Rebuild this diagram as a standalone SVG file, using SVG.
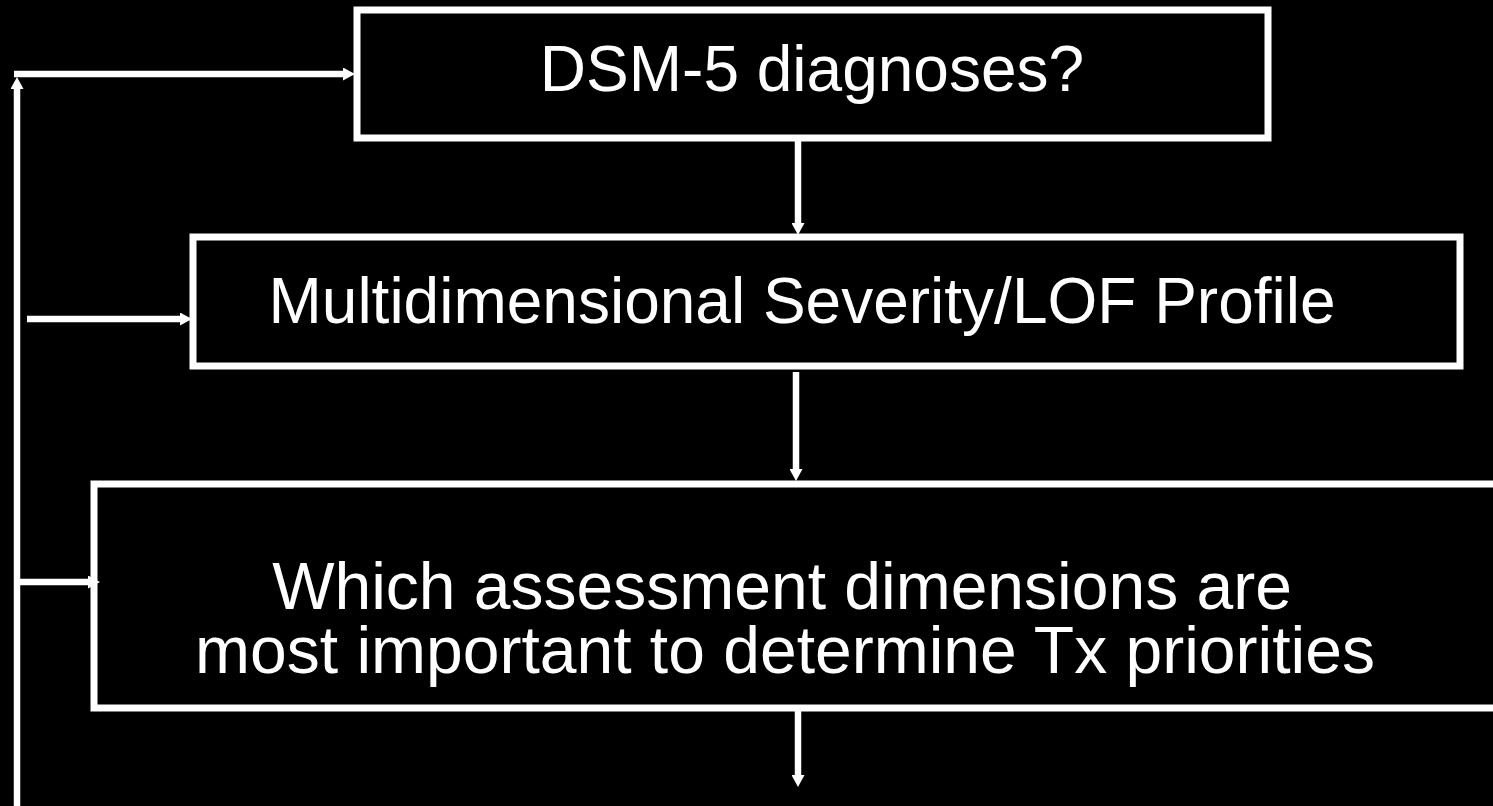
<svg xmlns="http://www.w3.org/2000/svg" width="1493" height="806" viewBox="0 0 1493 806">
  <style>
    .box { fill: #000000; stroke: #ffffff; stroke-width: 7; }
    .lbl { fill: #ffffff; font-family: "Liberation Sans", Arial, sans-serif; font-size: 64px; text-anchor: middle; }
    .lbl3 { font-size: 66px; }
    .conn { fill: none; stroke: #ffffff; stroke-width: 6.5; }
  </style>
  <defs>
    <marker id="ah" viewBox="0 0 12 13" refX="2" refY="6.5" markerWidth="12" markerHeight="13" markerUnits="userSpaceOnUse" orient="auto">
      <path d="M0,0 L12,6.5 L0,13 z" fill="#ffffff"/>
    </marker>
  </defs>
  <rect width="1493" height="806" fill="#000000"/>

  <g id="node-dsm5">
    <rect class="box" x="357" y="10" width="911" height="128"/>
    <text class="lbl" x="812" y="91">DSM-5 diagnoses?</text>
  </g>

  <g id="node-profile">
    <rect class="box" x="193" y="237" width="1267" height="129"/>
    <text class="lbl" x="802" y="323">Multidimensional Severity/LOF Profile</text>
  </g>

  <g id="node-dimensions">
    <rect class="box" x="94" y="484" width="1420" height="224"/>
    <text class="lbl lbl3" x="782" y="609">Which assessment dimensions are</text>
    <text class="lbl lbl3" x="785" y="673">most important to determine Tx priorities</text>
  </g>

  <g id="connectors">
    <path class="conn" d="M17,810 L17,87" marker-end="url(#ah)"/>
    <path class="conn" d="M14,74 L345,74" marker-end="url(#ah)"/>
    <path class="conn" d="M27,319 L182,319" marker-end="url(#ah)"/>
    <path class="conn" d="M17,582 L90,582" marker-end="url(#ah)"/>
    <path class="conn" d="M798,141 L798,225" marker-end="url(#ah)"/>
    <path class="conn" d="M796,372 L796,471" marker-end="url(#ah)"/>
    <path class="conn" d="M798,711 L798,777" marker-end="url(#ah)"/>
  </g>
</svg>
